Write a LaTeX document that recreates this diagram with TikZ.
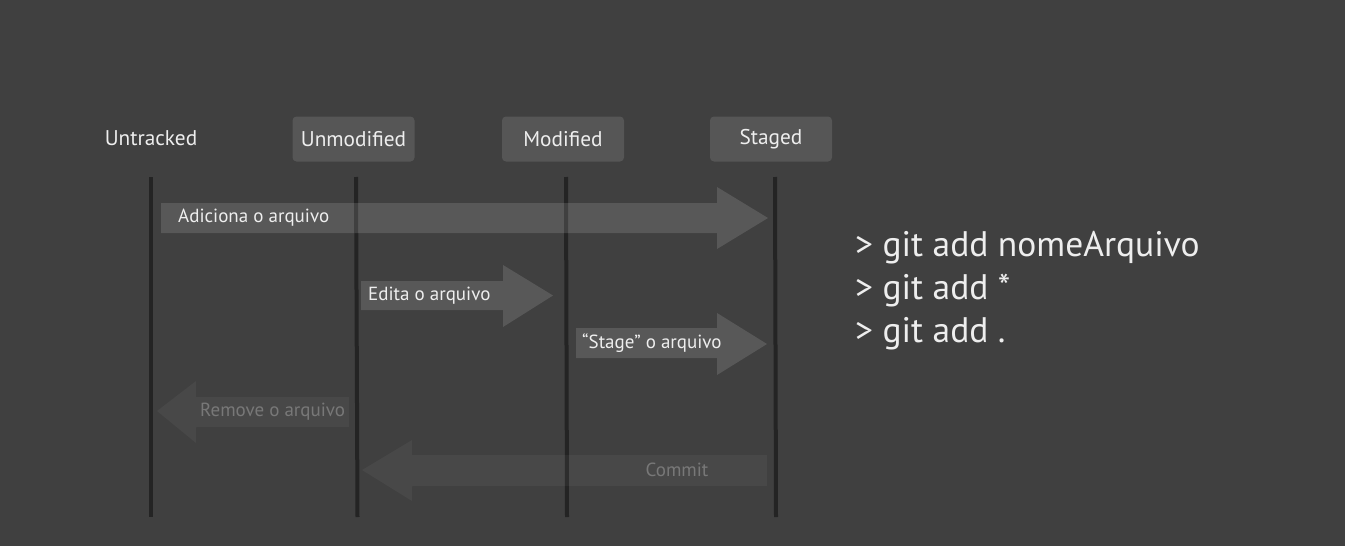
\documentclass[tikz,border=0pt]{standalone}
\usepackage{fontspec}
\setmainfont{PT Sans}
\definecolor{bg}{RGB}{64,64,64}
\definecolor{boxc}{RGB}{86,86,86}
\definecolor{linec}{RGB}{36,36,36}
\definecolor{txt}{RGB}{238,238,238}
\definecolor{faint}{RGB}{120,120,120}
\begin{document}
\begin{tikzpicture}[x=1pt,y=-1pt,
  hdr/.style={text=txt,font=\fontsize{21.3}{24}\selectfont,inner sep=0pt},
  hdrbox/.style={fill=boxc,rounded corners=4pt,minimum width=122pt,minimum height=45pt,text=txt,font=\fontsize{21.3}{24}\selectfont},
  life/.style={linec,line width=4pt},
  arrowfill/.style={fill=white,fill opacity=0.13},
  faintfill/.style={fill=white,fill opacity=0.045},
  lbl/.style={text=txt,font=\fontsize{19}{22}\selectfont,inner sep=0pt,anchor=west},
  flbl/.style={text=faint,font=\fontsize{19}{22}\selectfont,inner sep=0pt},
  cmd/.style={text=txt,font=\fontsize{35.5}{40}\selectfont,inner sep=0pt,anchor=west}]
\useasboundingbox (0,0) rectangle (1345,546);
\fill[bg] (0,0) rectangle (1345,546);
% headers
\node[hdr] (untracked) at (151,138.5) {Untracked};
\node[hdrbox] (unmod) at (353.5,139) {Unmodified};
\node[hdrbox] (mod) at (563,139) {Modified};
\node[hdrbox] (staged) at (771,139) {Staged};
% lifelines
\coordinate (l1t) at (151,177); \coordinate (l1b) at (151,517);
\coordinate (l2t) at (356,177); \coordinate (l2b) at (357.5,517);
\coordinate (l3t) at (566,177); \coordinate (l3b) at (567,517);
\coordinate (l4t) at (775,177); \coordinate (l4b) at (776,517);
\draw[life] (l1t) -- (l1b);
\draw[life] (l2t) -- (l2b);
\draw[life] (l3t) -- (l3b);
\draw[life] (l4t) -- (l4b);
% arrow 1
\fill[arrowfill] (161,203) -- (717,203) -- (717,187) -- (768,218) -- (717,249) -- (717,233) -- (161,233) -- cycle;
\node[lbl] (a1) at (178,217.5) {Adiciona o arquivo};
% arrow 2
\fill[arrowfill] (361,281) -- (503,281) -- (503,265) -- (553,295.5) -- (503,327) -- (503,310) -- (361,310) -- cycle;
\node[lbl] (a2) at (368,295.5) {Edita o arquivo};
% arrow 3
\fill[arrowfill] (576,328) -- (717,328) -- (717,313) -- (767,344) -- (717,375) -- (717,358) -- (576,358) -- cycle;
\node[lbl] (a3) at (582,343.5) {“Stage” o arquivo};
% arrow 4
\fill[faintfill] (349,397) -- (196,397) -- (196,381) -- (157,411) -- (196,443) -- (196,427) -- (349,427) -- cycle;
\node[flbl,anchor=west] (a4) at (200,412) {Remove o arquivo};
% arrow 5
\fill[faintfill] (767,455) -- (412,455) -- (412,440) -- (362,470) -- (412,501) -- (412,486) -- (767,486) -- cycle;
\node[flbl] (a5) at (677,470) {Commit};
% commands
\node[cmd] (c1) at (855,248) {> git add nomeArquivo};
\node[cmd] (c2) at (855,291) {> git add *};
\node[cmd] (c3) at (855,334) {> git add .};
\end{tikzpicture}
\end{document}
